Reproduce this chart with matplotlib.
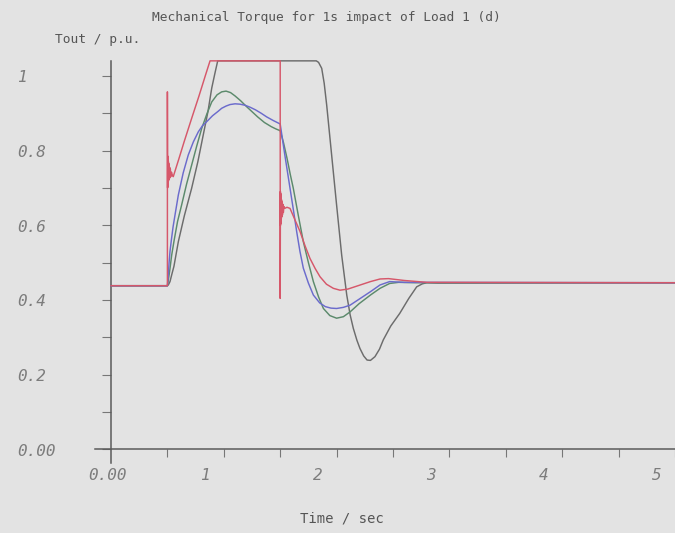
import matplotlib
matplotlib.use("Agg")
import matplotlib.pyplot as plt
import matplotlib.transforms as mtransforms

# Mechanical torque responses (p.u.) versus time (s)
t_gray = [0, 0.5, 0.51, 0.523, 0.538, 0.558, 0.597, 0.65, 0.715, 0.77, 0.818, 0.86, 0.893, 0.92, 0.946,
          1.82, 1.84, 1.868, 1.89, 1.912, 1.956, 2.0, 2.045, 2.09, 2.12, 2.148, 2.18, 2.207, 2.24, 2.27,
          2.30, 2.34, 2.38, 2.414, 2.48, 2.56, 2.64, 2.71, 2.76, 2.8, 2.9, 5.0]
v_gray = [0.438, 0.438, 0.441, 0.449, 0.467, 0.49, 0.556, 0.625, 0.699, 0.77, 0.842, 0.905, 0.967, 1.005, 1.04,
          1.04, 1.036, 1.02, 0.98, 0.922, 0.788, 0.654, 0.52, 0.413, 0.36, 0.324, 0.292, 0.27, 0.25, 0.239,
          0.238, 0.248, 0.268, 0.293, 0.33, 0.364, 0.404, 0.435, 0.443, 0.446, 0.445, 0.446]

t_green = [0, 0.5, 0.508, 0.52, 0.538, 0.56, 0.59, 0.626, 0.67, 0.715, 0.76, 0.804, 0.85, 0.893, 0.94,
           0.981, 1.02, 1.06, 1.10, 1.15, 1.20, 1.25, 1.30, 1.36, 1.42, 1.46, 1.5, 1.53, 1.56, 1.59, 1.616,
           1.66, 1.705, 1.75, 1.794, 1.84, 1.883, 1.94, 2.0, 2.06, 2.12, 2.2, 2.3, 2.385, 2.47, 2.55, 2.7, 5.0]
v_green = [0.438, 0.438, 0.452, 0.477, 0.52, 0.56, 0.61, 0.654, 0.71, 0.761, 0.812, 0.859, 0.898, 0.93, 0.949,
           0.957, 0.959, 0.955, 0.946, 0.933, 0.918, 0.904, 0.89, 0.875, 0.864, 0.858, 0.853, 0.82, 0.78, 0.735, 0.699,
           0.627, 0.556, 0.50, 0.449, 0.408, 0.377, 0.358, 0.351, 0.355, 0.368, 0.39, 0.413, 0.431, 0.444, 0.447, 0.446, 0.446]

t_blue = [0, 0.5, 0.508, 0.515, 0.523, 0.535, 0.55, 0.57, 0.597, 0.64, 0.685, 0.73, 0.774, 0.81, 0.848,
          0.9, 0.95, 0.981, 1.02, 1.055, 1.10, 1.144, 1.19, 1.232, 1.28, 1.33, 1.38, 1.44, 1.5, 1.54, 1.587,
          1.62, 1.646, 1.675, 1.705, 1.75, 1.794, 1.85, 1.9, 1.95, 2.0, 2.06, 2.12, 2.21, 2.3, 2.385, 2.47, 2.6, 5.0]
v_blue = [0.438, 0.438, 0.468, 0.50, 0.53, 0.56, 0.595, 0.632, 0.681, 0.74, 0.788, 0.823, 0.85, 0.866, 0.877,
          0.893, 0.905, 0.913, 0.919, 0.923, 0.925, 0.924, 0.921, 0.916, 0.909, 0.9, 0.89, 0.88, 0.871, 0.79, 0.699,
          0.635, 0.583, 0.53, 0.485, 0.445, 0.413, 0.392, 0.382, 0.378, 0.377, 0.38, 0.386, 0.404, 0.422, 0.44, 0.449, 0.447, 0.446]

t_red = [0, 0.5, 0.5, 0.501, 0.502, 0.503, 0.504, 0.505, 0.506, 0.507, 0.508, 0.509, 0.51, 0.512, 0.514,
         0.516, 0.518, 0.52, 0.523, 0.526, 0.53, 0.536, 0.544, 0.552, 0.6, 0.65, 0.715, 0.78, 0.84, 0.878,
         1.5, 1.5, 1.501, 1.502, 1.503, 1.504, 1.505, 1.506, 1.507, 1.508, 1.51, 1.512, 1.514, 1.517, 1.52,
         1.524, 1.528, 1.533, 1.54, 1.56, 1.587, 1.63, 1.676, 1.72, 1.764, 1.81, 1.853, 1.91, 1.971, 2.03,
         2.1, 2.21, 2.3, 2.385, 2.46, 2.6, 2.8, 5.0]
v_red = [0.438, 0.438, 0.957, 0.80, 0.70, 0.785, 0.705, 0.78, 0.712, 0.775, 0.716, 0.77, 0.72, 0.765, 0.722,
         0.76, 0.725, 0.755, 0.728, 0.75, 0.73, 0.742, 0.734, 0.73, 0.776, 0.825, 0.886, 0.946, 1.004, 1.04,
         1.04, 0.404, 0.55, 0.69, 0.60, 0.685, 0.605, 0.68, 0.612, 0.675, 0.618, 0.668, 0.622, 0.662, 0.628,
         0.656, 0.634, 0.65, 0.645, 0.648, 0.645, 0.615, 0.583, 0.545, 0.511, 0.484, 0.462, 0.442, 0.431, 0.426,
         0.429, 0.44, 0.449, 0.456, 0.457, 0.452, 0.447, 0.446]

y_ticks = [0.0, 0.2, 0.4, 0.6, 0.8, 1.0]
y_tick_labels = ["0.00", "0.2", "0.4", "0.6", "0.8", "1"]
x_ticks = [0, 1, 2, 3, 4, 5]
x_tick_labels = ["0.00", "1", "2", "3", "4", "5"]

X_MAX = 5.0
Y_MAX = 1.04
BG = "#e3e3e3"
TXT = "#7c7c7c"
AX = "#5a5a5a"
MONO = "DejaVu Sans Mono"

W, H = 675, 533
fig = plt.figure(figsize=(W / 100, H / 100), dpi=100, facecolor=BG)

# axes box in pixel terms: origin at (111, 449.3), 1 s = 112.8 px, 0.1 p.u. = 37.35 px
left, bottom = 111 / W, (H - 449.3) / H
width = X_MAX * 112.8 / W
height = Y_MAX * 373.5 / H
ax = fig.add_axes([left, bottom, width, height])
ax.set_xlim(0, X_MAX)
ax.set_ylim(0, Y_MAX)
ax.patch.set_visible(False)
for s in ax.spines.values():
    s.set_visible(False)

# axis lines, slightly overshooting the origin
ax.plot([0, 0], [-0.037, Y_MAX], color=AX, lw=1.1, clip_on=False, zorder=3)
ax.plot([-0.142, X_MAX], [0, 0], color=AX, lw=1.1, clip_on=False, zorder=3)

# minor tick marks
ax.set_yticks([i / 10 for i in range(11)])
ax.set_xticks([i / 2 for i in range(1, 11)])
ax.tick_params(axis="y", direction="out", length=6.5, width=0.8, color="#777777", labelleft=False)
ax.tick_params(axis="x", direction="out", length=6, width=0.8, color="#777777", labelbottom=False)

# series
ax.plot(t_gray, v_gray, color="#6c6c6c", lw=1.05, clip_on=False, zorder=4)
ax.plot(t_green, v_green, color="#5c8a6c", lw=1.05, clip_on=False, zorder=4)
ax.plot(t_blue, v_blue, color="#6b6bcc", lw=1.05, clip_on=False, zorder=4)
ax.plot(t_red, v_red, color="#d6576a", lw=1.05, clip_on=False, zorder=5)

# y tick labels, left-aligned near the figure edge
ytr = mtransforms.blended_transform_factory(fig.transFigure, ax.transData)
ytr = ytr + mtransforms.ScaledTranslation(0, -2 / 100, fig.dpi_scale_trans)
for val, lab in zip(y_ticks, y_tick_labels):
    ax.text(17 / W, val, lab, transform=ytr, ha="left", va="center",
            family=MONO, style="oblique", fontsize=11.5, color=TXT)

# x tick labels, set a little to the left of their ticks as the plotter did
xtr = mtransforms.blended_transform_factory(ax.transData, fig.transFigure)
for val, lab in zip(x_ticks, x_tick_labels):
    shift = -0.03 if val == 0 else -0.165
    ax.text(val + shift, (H - 476) / H, lab, transform=xtr, ha="center", va="center",
            family=MONO, style="oblique", fontsize=11.5, color=TXT)

fig.text(326 / W, (H - 18) / H, "Mechanical Torque for 1s impact of Load 1 (d)",
         ha="center", va="center", family=MONO, fontsize=9.3, color="#555555")
fig.text(55 / W, (H - 40) / H, "Tout / p.u.", ha="left", va="center",
         family=MONO, fontsize=9.3, color="#555555")
fig.text(342 / W, (H - 518) / H, "Time / sec", ha="center", va="center",
         family=MONO, fontsize=10, color="#555555")

fig.savefig("out.png", dpi=100, facecolor=BG)
